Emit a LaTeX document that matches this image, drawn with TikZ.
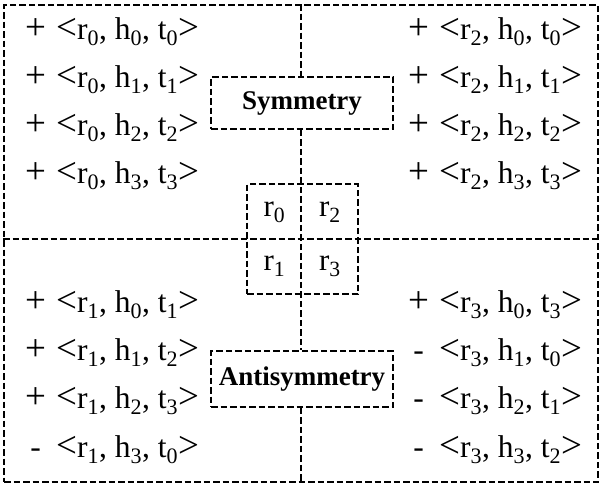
\documentclass[tikz,border=0pt]{standalone}
\usepackage{fontspec}
\setmainfont{Liberation Serif}
\newcommand{\bgs}[1]{{\fontsize{37}{37}\selectfont #1}}
\newcommand{\sg}[1]{\makebox[31pt][l]{#1}}
\newcommand{\trp}[4]{\sg{#1}\bgs{<}r\textsubscript{#2}, h\textsubscript{#3}, t\textsubscript{#4}\bgs{>}}
\tikzset{
  dashline/.style={dash pattern=on 6.5pt off 3pt, line width=1.8pt},
  boxd/.style={draw, dashline, inner sep=0pt},
  trip/.style={anchor=west, inner sep=0pt, font=\fontsize{31.5}{38}\selectfont},
  lbl/.style={font=\fontsize{27}{32}\selectfont\bfseries},
  cell/.style={inner sep=0pt, font=\fontsize{31}{34}\selectfont}
}
\begin{document}
\begin{tikzpicture}[x=1pt,y=-1pt]
\useasboundingbox (0,0) rectangle (604,490);
\node[boxd, minimum width=594, minimum height=477] (outer) at (301,243.5) {};
\node[boxd, lbl, minimum width=182, minimum height=52, fill=white] (sym) at (302,103) {Symmetry};
\node[boxd, lbl, minimum width=182, minimum height=56, fill=white] (anti) at (302,379) {Antisymmetry};
\node[boxd, minimum width=111, minimum height=110] (rbox) at (302.5,239) {};
% centre lines
\draw[dashline] (outer.west |- rbox.center) -- (outer.east |- rbox.center);
\draw[dashline] (outer.north) -- (outer.north |- sym.north);
\draw[dashline] (outer.north |- sym.south) -- (outer.north |- anti.north);
\draw[dashline] (outer.north |- anti.south) -- (outer.south);
% cells
\node[cell] (c0) at (274.5,212) {r\textsubscript{0}};
\node[cell] (c2) at (330,212) {r\textsubscript{2}};
\node[cell] (c1) at (274.5,266) {r\textsubscript{1}};
\node[cell] (c3) at (330,266) {r\textsubscript{3}};
% left top
\node[trip] (a0) at (25,32)  {\trp{\bgs{+}}{0}{0}{0}};
\node[trip] (a1) at (25,80)  {\trp{\bgs{+}}{0}{1}{1}};
\node[trip] (a2) at (25,128) {\trp{\bgs{+}}{0}{2}{2}};
\node[trip] (a3) at (25,176) {\trp{\bgs{+}}{0}{3}{3}};
% right top
\node[trip] (b0) at (408,32)  {\trp{\bgs{+}}{2}{0}{0}};
\node[trip] (b1) at (408,80)  {\trp{\bgs{+}}{2}{1}{1}};
\node[trip] (b2) at (408,128) {\trp{\bgs{+}}{2}{2}{2}};
\node[trip] (b3) at (408,176) {\trp{\bgs{+}}{2}{3}{3}};
% left bottom
\node[trip] (d0) at (25,305) {\trp{\bgs{+}}{1}{0}{1}};
\node[trip] (d1) at (25,353) {\trp{\bgs{+}}{1}{1}{2}};
\node[trip] (d2) at (25,401) {\trp{\bgs{+}}{1}{2}{3}};
\node[trip] (d3) at (25,450) {\trp{\,-}{1}{3}{0}};
% right bottom
\node[trip] (e0) at (408,305) {\trp{\bgs{+}}{3}{0}{3}};
\node[trip] (e1) at (408,353) {\trp{\,-}{3}{1}{0}};
\node[trip] (e2) at (408,401) {\trp{\,-}{3}{2}{1}};
\node[trip] (e3) at (408,450) {\trp{\,-}{3}{3}{2}};
\end{tikzpicture}
\end{document}
